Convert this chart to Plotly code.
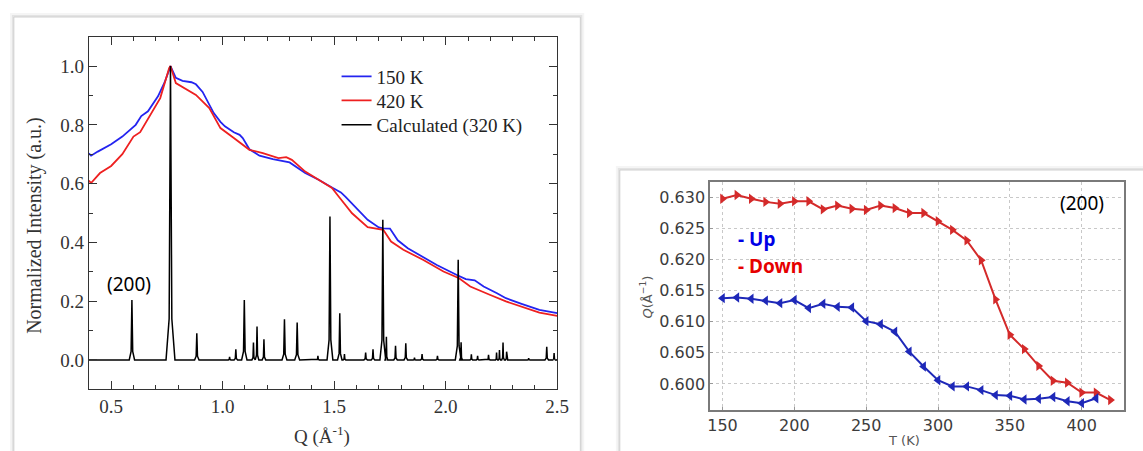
import plotly.graph_objects as go

W, H = 1143, 451

def px(x):
    return x / W

def py(y):
    return 1 - y / H

# ---------------- Left panel data (Q in 1/Å, normalized intensity) ----------------
q_150K = [0.40, 0.41, 0.44, 0.50, 0.55, 0.61, 0.635, 0.665, 0.71, 0.74, 0.766, 0.79, 0.82, 0.86,
          0.88, 0.91, 0.96, 0.99, 1.01, 1.05, 1.076, 1.09, 1.12, 1.165, 1.225, 1.30, 1.37, 1.43,
          1.49, 1.53, 1.55, 1.61, 1.65, 1.70, 1.72, 1.75, 1.785, 1.83, 1.87, 1.96, 2.05, 2.09,
          2.13, 2.17, 2.23, 2.27, 2.34, 2.42, 2.50]
i_150K = [0.703, 0.695, 0.709, 0.734, 0.760, 0.800, 0.830, 0.846, 0.897, 0.945, 1.000, 0.960, 0.950, 0.945,
          0.938, 0.912, 0.840, 0.810, 0.795, 0.775, 0.766, 0.755, 0.717, 0.695, 0.683, 0.672, 0.636, 0.613,
          0.587, 0.570, 0.556, 0.508, 0.477, 0.451, 0.448, 0.447, 0.407, 0.380, 0.363, 0.323, 0.289, 0.275,
          0.271, 0.250, 0.227, 0.210, 0.191, 0.170, 0.159]

q_420K = [0.40, 0.41, 0.45, 0.50, 0.55, 0.60, 0.63, 0.67, 0.72, 0.76, 0.766, 0.79, 0.83, 0.88, 0.94,
          0.99, 1.05, 1.09, 1.12, 1.18, 1.25, 1.285, 1.31, 1.37, 1.43, 1.49, 1.52, 1.58, 1.65, 1.72,
          1.755, 1.81, 1.90, 1.99, 2.06, 2.11, 2.20, 2.27, 2.42, 2.50]
i_420K = [0.610, 0.602, 0.636, 0.660, 0.700, 0.760, 0.775, 0.828, 0.891, 0.993, 1.000, 0.942, 0.925, 0.902, 0.857,
          0.789, 0.755, 0.732, 0.715, 0.704, 0.687, 0.690, 0.681, 0.641, 0.613, 0.585, 0.556, 0.499, 0.452, 0.443,
          0.403, 0.375, 0.340, 0.301, 0.278, 0.250, 0.221, 0.199, 0.161, 0.150]

# Calculated (320 K) pattern: peak positions, heights and base half-widths
calc_peak_q = [0.593, 0.766, 0.884, 1.031, 1.059, 1.097, 1.138, 1.154, 1.185, 1.277, 1.334, 1.427,
               1.481, 1.525, 1.546, 1.641, 1.674, 1.718, 1.734, 1.775, 1.821, 1.860, 1.894, 1.963,
               2.056, 2.069, 2.115, 2.143, 2.192, 2.228, 2.241, 2.257, 2.273, 2.372, 2.453, 2.486]
calc_peak_h = [0.204, 1.000, 0.091, 0.010, 0.036, 0.204, 0.059, 0.114, 0.070, 0.138, 0.127, 0.014,
               0.488, 0.159, 0.020, 0.025, 0.036, 0.477, 0.079, 0.048, 0.057, 0.008, 0.020, 0.014,
               0.341, 0.060, 0.019, 0.014, 0.017, 0.025, 0.034, 0.059, 0.028, 0.006, 0.045, 0.023]
calc_peak_w = [0.012, 0.020, 0.010, 0.006, 0.008, 0.012, 0.007, 0.008, 0.008, 0.011, 0.011, 0.006,
               0.013, 0.010, 0.006, 0.008, 0.008, 0.013, 0.006, 0.008, 0.008, 0.006, 0.007, 0.007,
               0.013, 0.006, 0.006, 0.006, 0.007, 0.005, 0.005, 0.006, 0.005, 0.006, 0.008, 0.006]
# stick profile (relative offset, fraction of peak height) used to draw each peak
peak_dx = [-1.0, -0.3, 0.0, 0.3, 1.0]
peak_frac = [0.0, 0.14, 1.0, 0.14, 0.0]

# ---------------- Right panel data: (200) peak position vs temperature ----------------
T_up = [150, 160, 170, 180, 190, 200, 210, 220, 230, 240, 250, 260, 270, 280, 290, 300, 310,
        320, 330, 340, 350, 360, 370, 380, 390, 400, 410]
Q_up = [0.6138, 0.6139, 0.6137, 0.6134, 0.6130, 0.6135, 0.6122, 0.6129, 0.6124, 0.6123, 0.6101,
        0.6096, 0.6084, 0.6052, 0.6028, 0.6006, 0.5996, 0.5996, 0.5990, 0.5982, 0.5981, 0.5975,
        0.5976, 0.5979, 0.5972, 0.5969, 0.5977]
T_down = [150, 160, 170, 180, 190, 200, 210, 220, 230, 240, 250, 260, 270, 280, 290, 300, 310,
          320, 330, 340, 350, 360, 370, 380, 390, 400, 410, 420]
Q_down = [0.6298, 0.6304, 0.6298, 0.6293, 0.6290, 0.6294, 0.6294, 0.6281, 0.6287, 0.6282, 0.6280,
          0.6287, 0.6283, 0.6275, 0.6275, 0.6262, 0.6248, 0.6231, 0.6199, 0.6136, 0.6079, 0.6056,
          0.6029, 0.6005, 0.6002, 0.5986, 0.5986, 0.5974]

# build the calculated line from the peak list
calc_x = [0.40]
calc_y = [0.0]
for q, h, w in zip(calc_peak_q, calc_peak_h, calc_peak_w):
    for dx, fr in zip(peak_dx, peak_frac):
        calc_x.append(q + dx * w)
        calc_y.append(h * fr)
calc_x.append(2.50)
calc_y.append(0.0)

fig = go.Figure()

# ---------------- cards (background panels) ----------------
shapes = []
def card(x0, y0, x1, y1):
    shapes.append(dict(type="rect", xref="paper", yref="paper", layer="below",
                       x0=px(x0 - 4), x1=px(x1 + 4), y0=py(y1 + 4), y1=py(y0 - 4),
                       fillcolor="rgba(0,0,0,0.04)", line=dict(width=0)))
    shapes.append(dict(type="rect", xref="paper", yref="paper", layer="below",
                       x0=px(x0 - 2), x1=px(x1 + 2), y0=py(y1 + 2), y1=py(y0 - 2),
                       fillcolor="rgba(0,0,0,0.07)", line=dict(width=0)))
    shapes.append(dict(type="rect", xref="paper", yref="paper", layer="below",
                       x0=px(x0), x1=px(x1), y0=py(y1), y1=py(y0),
                       fillcolor="white", line=dict(color="#d0d0d0", width=1)))

card(11, 17, 585, 470)
card(625, 170, 1160, 470)

serif = "Liberation Serif"

# ---------------- left panel traces ----------------
fig.add_trace(go.Scatter(x=q_150K, y=i_150K, mode="lines", name="150 K", legend="legend",
                         line=dict(color="#2424f0", width=1.8), xaxis="x", yaxis="y"))
fig.add_trace(go.Scatter(x=q_420K, y=i_420K, mode="lines", name="420 K", legend="legend2",
                         line=dict(color="#ee2020", width=1.8), xaxis="x", yaxis="y"))
fig.add_trace(go.Scatter(x=calc_x, y=calc_y, mode="lines", name="Calculated (320 K)", legend="legend3",
                         line=dict(color="black", width=1.5), xaxis="x", yaxis="y"))

# ---------------- right panel traces ----------------
fig.add_trace(go.Scatter(x=T_down, y=Q_down, mode="lines+markers", showlegend=False,
                         line=dict(color="#d42a2a", width=2),
                         marker=dict(symbol="triangle-right", size=9, color="#d42a2a"),
                         xaxis="x2", yaxis="y2"))
fig.add_trace(go.Scatter(x=T_up, y=Q_up, mode="lines+markers", showlegend=False,
                         line=dict(color="#1e28b8", width=2),
                         marker=dict(symbol="triangle-left", size=9, color="#1e28b8"),
                         xaxis="x2", yaxis="y2"))

left_axis_common = dict(showline=True, linecolor="#333", linewidth=1.3, mirror="ticks",
                        ticks="inside", ticklen=8, tickwidth=1.3, tickcolor="#333",
                        showgrid=False, zeroline=False,
                        tickfont=dict(family=serif, size=19, color="#333"))
right_axis_common = dict(showline=True, linecolor="#7a7a7a", linewidth=2, mirror=True,
                         ticks="inside", ticklen=3, tickcolor="#999",
                         showgrid=True, gridcolor="#c8c8c8", griddash="dot", gridwidth=1,
                         zeroline=False,
                         tickfont=dict(family="DejaVu Sans", size=16, color="#3c3c3c"))

def legend_at(top):
    return dict(x=px(338), y=py(top), xanchor="left", yanchor="top",
                bgcolor="rgba(0,0,0,0)", borderwidth=0,
                font=dict(family=serif, size=19, color="#222"))

fig.update_layout(
    width=W, height=H, autosize=False,
    margin=dict(l=0, r=0, t=0, b=0),
    paper_bgcolor="white", plot_bgcolor="rgba(0,0,0,0)",
    shapes=shapes,
    xaxis=dict(domain=[px(87), px(561.6)], range=[0.4, 2.5], anchor="y",
               tick0=0.5, dtick=0.5, tickformat=".1f",
               minor=dict(ticks="inside", ticklen=4, dtick=0.1, tickcolor="#333", tickwidth=1.3),
               **left_axis_common),
    yaxis=dict(domain=[py(389.3), py(36.7)], range=[-0.1, 1.1], anchor="x",
               tick0=0, dtick=0.2, tickformat=".1f",
               minor=dict(ticks="inside", ticklen=4, dtick=0.1, tickcolor="#333", tickwidth=1.3),
               **left_axis_common),
    xaxis2=dict(domain=[px(716.7), px(1136)], range=[141.5, 429.5], anchor="y2",
                tick0=150, dtick=50, **right_axis_common),
    yaxis2=dict(domain=[py(410), py(182)], range=[0.5958, 0.6325], anchor="x2",
                tick0=0.6, dtick=0.005, tickformat=".3f", **right_axis_common),
    legend=legend_at(57.5),
    legend2=legend_at(81.5),
    legend3=legend_at(106),
    annotations=[
        dict(text="Normalized Intensity (a.u.)", xref="paper", yref="paper",
             x=px(32.6), y=py(225.7), textangle=-90, showarrow=False,
             xanchor="center", yanchor="middle",
             font=dict(family=serif, size=20, color="#333")),
        dict(text="Q (Å<sup>-1</sup>)", xref="paper", yref="paper",
             x=px(323.7), y=py(435), showarrow=False, xanchor="center", yanchor="middle",
             font=dict(family=serif, size=19, color="#333")),
        dict(text="(200)", xref="x", yref="y", x=0.582, y=0.259, showarrow=False,
             xanchor="center", yanchor="middle",
             font=dict(family="Noto Sans", size=19, color="black")),
        dict(text="T (K)", xref="paper", yref="paper", x=px(912.7), y=py(440),
             showarrow=False, xanchor="center", yanchor="middle",
             font=dict(family="DejaVu Sans", size=13, color="#555")),
        dict(text="<i>Q</i>(Å<sup>−1</sup>)", xref="paper", yref="paper", x=px(652), y=py(297),
             textangle=-90, showarrow=False, xanchor="center", yanchor="middle",
             font=dict(family="DejaVu Sans", size=13, color="#555")),
        dict(text="(200)", xref="paper", yref="paper", x=px(1093), y=py(203), showarrow=False,
             xanchor="center", yanchor="middle",
             font=dict(family="Noto Sans", size=19, color="black")),
        dict(text="<b>- Up</b>", xref="paper", yref="paper", x=px(743), y=py(239),
             showarrow=False, xanchor="left", yanchor="middle",
             font=dict(family="Noto Sans", size=19, color="#0000e6")),
        dict(text="<b>- Down</b>", xref="paper", yref="paper", x=px(743), y=py(265.7),
             showarrow=False, xanchor="left", yanchor="middle",
             font=dict(family="Noto Sans", size=19, color="#e60000")),
    ],
)

fig.write_html("out.html",
               config={"displayModeBar": False},
               post_script="document.body.style.margin='0';document.body.style.overflow='hidden';")
